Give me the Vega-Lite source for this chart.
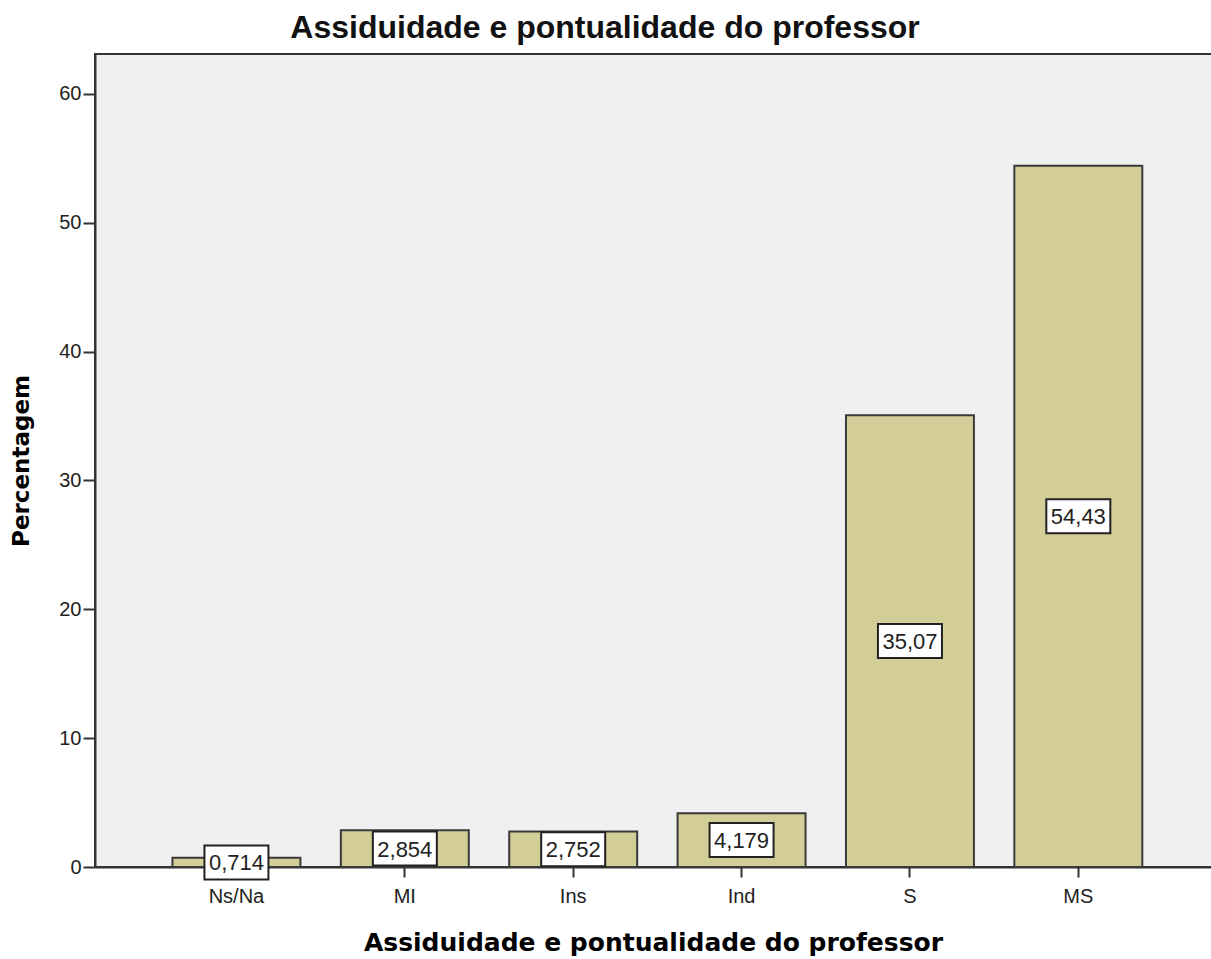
{
  "$schema": "https://vega.github.io/schema/vega-lite/v6.json",
  "width": 1116,
  "height": 813,
  "autosize": {"type": "none"},
  "padding": {"left": 95, "top": 54, "right": 0, "bottom": 92},
  "background": "white",
  "title": {
    "text": "Assiduidade e pontualidade  do professor",
    "font": "Liberation Sans",
    "fontSize": 32,
    "fontWeight": "bold",
    "color": "#111111",
    "anchor": "middle",
    "dx": -48,
    "offset": 9
  },
  "config": {
    "view": {"fill": "#f0f0f0", "stroke": "#333333", "strokeWidth": 2, "strokeDash": [1116, 813, 1929, 1]},
    "locale": {
      "number": {"decimal": ",", "thousands": ".", "grouping": [3], "currency": ["", ""]}
    }
  },
  "data": {
    "values": [
      {"categoria": "Ns/Na", "percentagem": 0.714},
      {"categoria": "MI", "percentagem": 2.854},
      {"categoria": "Ins", "percentagem": 2.752},
      {"categoria": "Ind", "percentagem": 4.179},
      {"categoria": "S", "percentagem": 35.07},
      {"categoria": "MS", "percentagem": 54.43}
    ]
  },
  "encoding": {
    "x": {
      "field": "categoria",
      "type": "nominal",
      "sort": null,
      "scale": {"paddingInner": 0.24, "paddingOuter": 0.434, "align": 0.53},
      "axis": {
        "title": "Assiduidade e pontualidade  do professor",
        "titleFont": "DejaVu Sans",
        "titleFontSize": 25,
        "titleFontWeight": "bold",
        "titleColor": "#000000",
        "titlePadding": 24,
        "labelAngle": 0,
        "labelFont": "Liberation Sans",
        "labelFontSize": 20,
        "labelColor": "#222222",
        "labelPadding": 9,
        "tickSize": 10,
        "tickColor": "#333333",
        "tickWidth": 2,
        "domainColor": "#333333",
        "domainWidth": 2,
        "grid": false
      }
    }
  },
  "layer": [
    {
      "mark": {"type": "bar", "fill": "#d3ce97", "stroke": "#3a3a3a", "strokeWidth": 2},
      "encoding": {
        "y": {
          "field": "percentagem",
          "type": "quantitative",
          "scale": {"domain": [0, 63.1], "nice": false},
          "axis": {
            "title": "Percentagem",
            "titleFont": "DejaVu Sans",
            "titleFontSize": 23,
            "titleFontWeight": "bold",
            "titleColor": "#000000",
            "titlePadding": 25,
            "values": [0, 10, 20, 30, 40, 50, 60],
            "labelFont": "Liberation Sans",
            "labelFontSize": 20,
            "labelColor": "#222222",
            "labelPadding": 2,
            "tickSize": 12,
            "tickColor": "#333333",
            "tickWidth": 2,
            "domainColor": "#333333",
            "domainWidth": 2,
            "grid": false
          }
        }
      }
    },
    {
      "mark": {
        "type": "point",
        "shape": "M-1,-0.531L1,-0.531L1,0.531L-1,0.531Z",
        "size": 4096,
        "filled": true,
        "fill": "#ffffff",
        "fillOpacity": 1,
        "stroke": "#222222",
        "strokeWidth": 2,
        "opacity": 1
      },
      "encoding": {
        "y": {"field": "percentagem", "type": "quantitative", "stack": "zero", "bandPosition": 0.5}
      }
    },
    {
      "mark": {
        "type": "text",
        "font": "Liberation Sans",
        "fontSize": 22,
        "color": "#222222",
        "align": "center",
        "baseline": "middle",
        "dy": 1
      },
      "encoding": {
        "y": {"field": "percentagem", "type": "quantitative", "stack": "zero", "bandPosition": 0.5},
        "text": {"field": "percentagem", "type": "quantitative", "format": ".4~r"}
      }
    }
  ]
}
